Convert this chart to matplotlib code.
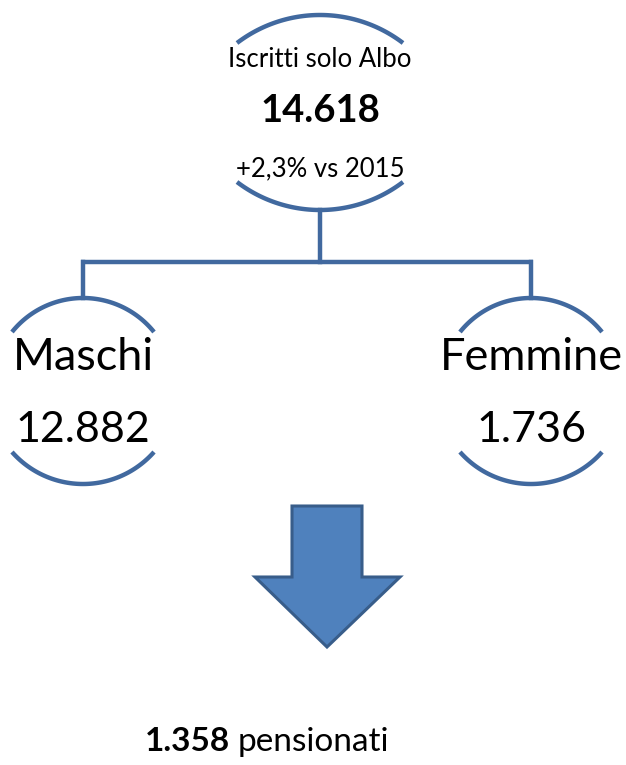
import numpy as np
import matplotlib
matplotlib.use("Agg")
import matplotlib.pyplot as plt
from matplotlib.patches import Polygon
from matplotlib.offsetbox import TextArea, HPacker, AnnotationBbox

# ---- data ----
title_label = "Iscritti solo Albo"
total_value = 14618
growth_pct = 2.3
growth_year = 2015
group_labels = ["Maschi", "Femmine"]
group_values = [12882, 1736]
pension_value = 1358
pension_label = "pensionati"

def fmt_it(n):
    return f"{n:,}".replace(",", ".")

FONT = ["Lato", "DejaVu Sans"]
ARC_COL = "#41699f"
LW = 3.2

W, H = 626, 765
fig = plt.figure(figsize=(W / 100, H / 100), dpi=100)
ax = fig.add_axes([0, 0, 1, 1])
ax.set_xlim(0, W)
ax.set_ylim(H, 0)
ax.axis("off")

def arc(cx, chord_y, halfw, sag, opens_down=True):
    R = (halfw ** 2 + sag ** 2) / (2 * sag)
    t = np.linspace(-np.arcsin(halfw / R), np.arcsin(halfw / R), 100)
    x = cx + R * np.sin(t)
    if opens_down:
        cy = chord_y - sag + R
        y = cy - R * np.cos(t)
    else:
        cy = chord_y + sag - R
        y = cy + R * np.cos(t)
    ax.plot(x, y, color=ARC_COL, lw=LW, solid_capstyle="butt")

# top bracket
cx0 = 320
arc(cx0, 43, 83, 28, True)
arc(cx0, 182, 83, 28, False)
ax.text(cx0, 66.5, title_label, ha="center", va="baseline", fontsize=18.5, family=FONT)
ax.text(cx0, 122, fmt_it(total_value), ha="center", va="baseline", fontsize=27.5,
        fontweight="bold", family=FONT)
ax.text(cx0, 176, f"+{growth_pct:.1f}% vs {growth_year}".replace(".", ","),
        ha="center", va="baseline", fontsize=18.5, family=FONT)

# connectors
xs = [83, 531]
ax.plot([cx0, cx0], [210, 262], color=ARC_COL, lw=LW)
ax.plot([xs[0] - 1.6, xs[1] + 1.6], [262, 262], color=ARC_COL, lw=LW, solid_capstyle="butt")
for x in xs:
    ax.plot([x, x], [262, 298], color=ARC_COL, lw=LW)

# group brackets
for x, lab, val in zip(xs, group_labels, group_values):
    arc(x, 332, 71, 34, True)
    arc(x, 452, 71, 32, False)
    ax.text(x, 369.5, lab, ha="center", va="baseline", fontsize=32.5, family=FONT)
    ax.text(x, 442, fmt_it(val), ha="center", va="baseline", fontsize=31, family=FONT)

# arrow
arrow_pts = [(292, 506), (362, 506), (362, 577), (400, 577), (327, 647),
             (255, 577), (292, 577)]
ax.add_patch(Polygon(arrow_pts, closed=True, facecolor="#4f81bd",
                     edgecolor="#385d8a", lw=2.2, joinstyle="miter"))

# bottom text
t1 = TextArea(fmt_it(pension_value), textprops=dict(fontsize=24, fontweight="bold", family=FONT))
t2 = TextArea(pension_label, textprops=dict(fontsize=24, family=FONT))
pack = HPacker(children=[t1, t2], pad=0, sep=6, align="baseline")
ab = AnnotationBbox(pack, (267, 742), xycoords="data", frameon=False,
                    box_alignment=(0.5, 0.5))
ax.add_artist(ab)

fig.savefig("out.png", dpi=100)
